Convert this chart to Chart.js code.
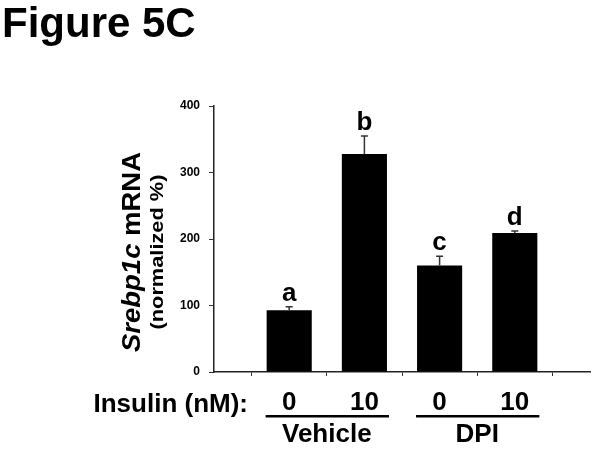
<!DOCTYPE html>
<html>
<head>
<meta charset="utf-8">
<script src="https://cdn.jsdelivr.net/npm/chart.js@4/dist/chart.umd.min.js"></script>
<style>
  html, body { margin: 0; padding: 0; background: #fff; }
  #wrap { width: 601px; height: 449px; position: relative; }
</style>
</head>
<body>
<div id="wrap"><canvas id="c" width="601" height="449"></canvas></div>
<script>
// ---- data ----
const doses = ['0', '10', '0', '10'];
const srebp1c = [93, 328, 160, 209];
const sem = [5, 27, 14, 3];
const sigLetters = ['a', 'b', 'c', 'd'];
const groupNames = ['Vehicle', 'DPI'];
const groupFirst = [0, 2];
const groupLast = [1, 3];
const yTickValues = [0, 100, 200, 300, 400];

// padded category axis: one empty slot before and after the bars
const labels = [''].concat(doses, ['']);
const values = [null].concat(srebp1c, [null]);

const FONT = '"Liberation Sans", Arial, Helvetica, sans-serif';

const annotate = {
  id: 'annotate',
  afterDatasetsDraw(chart) {
    const ctx = chart.ctx;
    const y = chart.scales.y;
    const meta = chart.getDatasetMeta(0);
    ctx.save();
    // error bars + letters
    srebp1c.forEach((v, i) => {
      const bar = meta.data[i + 1];
      const x = bar.x;
      const yTop = y.getPixelForValue(v);
      const yErr = y.getPixelForValue(v + sem[i]);
      ctx.strokeStyle = '#333';
      ctx.lineWidth = 1.5;
      ctx.beginPath();
      ctx.moveTo(x, yTop);
      ctx.lineTo(x, yErr);
      ctx.moveTo(x - 3.5, yErr);
      ctx.lineTo(x + 3.5, yErr);
      ctx.stroke();
      ctx.fillStyle = '#000';
      ctx.font = 'bold 26px ' + FONT;
      ctx.textAlign = 'center';
      ctx.textBaseline = 'alphabetic';
      ctx.fillText(sigLetters[i], x, yErr - 6);
    });
    ctx.restore();
  },
  afterDraw(chart) {
    const ctx = chart.ctx;
    const area = chart.chartArea;
    const meta = chart.getDatasetMeta(0);
    ctx.save();
    ctx.fillStyle = '#000';
    // figure label
    ctx.font = 'bold 42px ' + FONT;
    ctx.textAlign = 'left';
    ctx.textBaseline = 'alphabetic';
    ctx.fillText('Figure 5C', 2, 37);

    // "Insulin (nM):"
    ctx.font = 'bold 26px ' + FONT;
    ctx.textAlign = 'right';
    ctx.fillText('Insulin (nM):', 248, area.bottom + 40);

    // group underlines + names
    groupNames.forEach((name, g) => {
      const b0 = meta.data[groupFirst[g] + 1];
      const b1 = meta.data[groupLast[g] + 1];
      const x0 = b0.x - b0.width / 2 - 1;
      const x1 = b1.x + b1.width / 2 + 2;
      ctx.fillRect(x0, area.bottom + 43, x1 - x0, 2.5);
      ctx.font = 'bold 26px ' + FONT;
      ctx.textAlign = 'center';
      ctx.fillText(name, (b0.x + b1.x) / 2, area.bottom + 70);
    });

    // y-axis title (rotated, mixed styles)
    const cy = (area.top + area.bottom) / 2 + 13;
    ctx.translate(area.left - 74, cy);
    ctx.rotate(-Math.PI / 2);
    const fItal = 'italic bold 26px ' + FONT;
    const fBold = 'bold 26px ' + FONT;
    ctx.font = fItal; const w1 = ctx.measureText('Srebp1c').width;
    ctx.font = fBold; const w2 = ctx.measureText(' mRNA').width;
    const s1 = 200 / (w1 + w2);
    ctx.save();
    ctx.scale(s1, 1);
    const start = -(w1 + w2) / 2;
    ctx.textAlign = 'left';
    ctx.font = fItal; ctx.fillText('Srebp1c', start, 0);
    ctx.font = fBold; ctx.fillText(' mRNA', start + w1, 0);
    ctx.restore();
    // sub line
    ctx.font = 'bold 18px ' + FONT;
    const w3 = ctx.measureText('(normalized %)').width;
    ctx.save();
    ctx.translate(0, 23);
    ctx.scale(155 / w3, 1);
    ctx.textAlign = 'center';
    ctx.fillText('(normalized %)', 0, 0);
    ctx.restore();
    ctx.restore();
  }
};

new Chart(document.getElementById('c'), {
  type: 'bar',
  data: {
    labels: labels,
    datasets: [{
      data: values,
      backgroundColor: '#000',
      borderWidth: 0,
      barPercentage: 0.6,
      categoryPercentage: 1.0
    }]
  },
  options: {
    responsive: false,
    animation: false,
    devicePixelRatio: 1,
    layout: { padding: { top: 106, right: 8, left: 0, bottom: 0 } },
    plugins: { legend: { display: false }, tooltip: { enabled: false }, title: { display: false } },
    scales: {
      x: {
        type: 'category',
        offset: false,
        grid: { display: true, drawOnChartArea: false, drawTicks: true, tickLength: 4, color: '#333', lineWidth: 1 },
        border: { display: true, color: '#222', width: 1.5 },
        ticks: {
          color: '#000',
          font: { family: FONT, size: 26, weight: 'bold' },
          padding: 11,
          maxRotation: 0,
          autoSkip: false
        },
        afterFit(s) { s.height = 77; }
      },
      y: {
        min: 0,
        max: 400,
        afterBuildTicks(s) { s.ticks = yTickValues.map(v => ({ value: v })); },
        grid: { display: true, drawOnChartArea: false, drawTicks: true, tickLength: 5, color: '#333', lineWidth: 1 },
        border: { display: true, color: '#222', width: 1.5 },
        ticks: {
          color: '#000',
          font: { family: FONT, size: 12, weight: 'bold' },
          padding: 9
        },
        afterFit(s) { s.width = 214; }
      }
    }
  },
  plugins: [annotate]
});
</script>
</body>
</html>
